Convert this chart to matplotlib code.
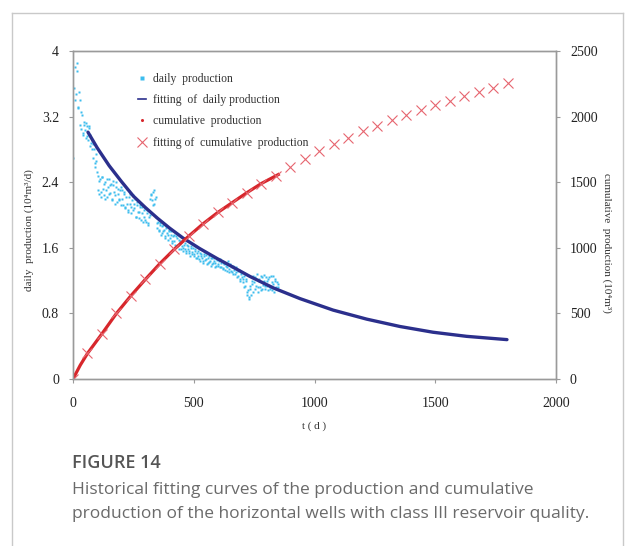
import numpy as np
import matplotlib
matplotlib.use("Agg")
import matplotlib.pyplot as plt
from matplotlib.lines import Line2D

plt.rcParams['font.family'] = ['Liberation Serif', 'DejaVu Serif']

# ---- data ----
# measured daily production (10^4 m3/d); two readings per 5 days
# taken across the noisy band
days = np.arange(2, 852, 5)
daily = [2.70, 3.80, 3.48, 3.75, 3.32, 3.40, 3.05, 3.22, 2.98, 3.14,
         2.94, 3.08, 2.92, 3.06, 2.84, 2.92, 2.70, 2.80, 2.58, 2.66,
         2.48, 2.26, 2.44, 2.28, 2.46, 2.24, 2.40, 2.30, 2.22, 2.44,
         2.27, 2.38, 2.18, 2.36, 2.24, 2.40, 2.16, 2.32, 2.20, 2.34,
         2.30, 2.12, 2.28, 2.10, 2.32, 2.06, 2.22, 2.14, 2.02, 2.24,
         2.08, 2.20, 1.98, 2.16, 2.04, 2.12, 1.94, 2.10, 1.98, 2.08,
         1.92, 2.06, 1.90, 2.00, 2.26, 2.18, 2.28, 2.14, 2.22, 1.84,
         1.92, 1.80, 1.90, 1.78, 1.88, 1.82, 1.74, 1.86, 1.76, 1.82,
         1.72, 1.80, 1.68, 1.76, 1.64, 1.74, 1.62, 1.70, 1.66, 1.58,
         1.68, 1.60, 1.66, 1.56, 1.64, 1.58, 1.54, 1.62, 1.52, 1.60,
         1.50, 1.58, 1.48, 1.56, 1.46, 1.54, 1.50, 1.44, 1.53, 1.45,
         1.51, 1.42, 1.50, 1.44, 1.48, 1.40, 1.47, 1.42, 1.38, 1.46,
         1.38, 1.46, 1.36, 1.44, 1.34, 1.42, 1.38, 1.32, 1.44, 1.34,
         1.40, 1.30, 1.38, 1.33, 1.28, 1.36, 1.26, 1.33, 1.22, 1.30,
         1.18, 1.26, 1.14, 1.22, 1.06, 1.00, 1.10, 1.03, 1.16, 1.26,
         1.10, 1.22, 1.28, 1.12, 1.20, 1.08, 1.24, 1.15, 1.27, 1.10,
         1.20, 1.08, 1.24, 1.12, 1.18, 1.26, 1.06, 1.20, 1.10, 1.16]
days_b = np.arange(4.5, 852, 5)
daily_b = [3.55, 3.40, 3.85, 3.30, 3.50, 3.10, 3.25, 3.00, 3.10, 3.04,
           3.12, 2.96, 3.08, 2.98, 2.88, 2.80, 2.86, 2.64, 2.74, 2.52,
           2.30, 2.42, 2.22, 2.46, 2.32, 2.38, 2.20, 2.44, 2.34, 2.26,
           2.36, 2.20, 2.42, 2.28, 2.14, 2.34, 2.26, 2.18, 2.30, 2.12,
           2.20, 2.26, 2.08, 2.22, 2.14, 2.04, 2.26, 2.10, 2.18, 2.06,
           2.14, 1.98, 2.12, 2.04, 1.96, 2.10, 2.02, 1.92, 2.06, 1.94,
           2.02, 1.88, 1.98, 2.20, 2.24, 2.12, 2.30, 2.20, 1.98, 1.90,
           1.82, 1.88, 1.76, 1.86, 1.80, 1.72, 1.84, 1.78, 1.70, 1.80,
           1.76, 1.66, 1.74, 1.68, 1.62, 1.72, 1.64, 1.58, 1.68, 1.62,
           1.56, 1.64, 1.58, 1.54, 1.62, 1.56, 1.50, 1.60, 1.55, 1.52,
           1.56, 1.48, 1.54, 1.50, 1.44, 1.52, 1.47, 1.42, 1.50, 1.46,
           1.40, 1.48, 1.43, 1.38, 1.47, 1.41, 1.44, 1.37, 1.45, 1.40,
           1.44, 1.37, 1.42, 1.35, 1.40, 1.33, 1.41, 1.36, 1.30, 1.39,
           1.32, 1.37, 1.28, 1.35, 1.30, 1.24, 1.32, 1.20, 1.28, 1.24,
           1.22, 1.12, 1.20, 1.02, 1.08, 0.98, 1.14, 1.20, 1.06, 1.18,
           1.24, 1.14, 1.06, 1.22, 1.12, 1.26, 1.10, 1.20, 1.13, 1.24,
           1.14, 1.22, 1.10, 1.26, 1.08, 1.16, 1.22, 1.12, 1.18, 1.12]

# fitted daily production
fit_t = [62, 100, 150, 200, 250, 300, 350, 400, 455, 525, 596, 665, 733,
         830, 940, 1077, 1216, 1354, 1491, 1630, 1797]
fit_q = [3.01, 2.82, 2.60, 2.41, 2.23, 2.09, 1.96, 1.84, 1.72, 1.59, 1.47,
         1.36, 1.25, 1.11, 0.98, 0.84, 0.73, 0.64, 0.57, 0.52, 0.48]

# cumulative production (10^4 m3): measured up to ~850 d, fitted to 1800 d
cum_t = [0, 60, 120, 180, 240, 300, 360, 420, 480, 540, 600, 660, 720,
         780, 840, 900, 960, 1020, 1080, 1140, 1200, 1260, 1320, 1380,
         1440, 1500, 1560, 1620, 1680, 1740, 1800]
cum_fit = [0, 195, 345, 500, 635, 760, 880, 990, 1090, 1185, 1270, 1345,
           1420, 1490, 1550, 1615, 1680, 1738, 1790, 1838, 1888, 1930,
           1975, 2012, 2050, 2088, 2120, 2157, 2187, 2218, 2256]
cum_meas_t = [0, 30, 60, 120, 180, 240, 300, 360, 420, 480, 540, 600,
              660, 720, 780, 850]
cum_meas = [0, 105, 195, 345, 500, 635, 760, 880, 990, 1090, 1185, 1270,
            1345, 1420, 1490, 1558]

cyan = '#3cbdee'
navy = '#2b2f8c'
red = '#d7262b'
xred = '#e6656f'
spine = '#9a9a9a'

fig = plt.figure(figsize=(6.25, 5.46), dpi=100)
ax = fig.add_axes([0.1168, 0.3059, 0.7728, 0.6007])
ax2 = ax.twinx()

ax.plot(days, daily, ls='none', marker='s', ms=1.9, color=cyan, mec='none')
ax.plot(days_b, daily_b, ls='none', marker='s', ms=1.9, color=cyan, mec='none')
ax.plot(fit_t, fit_q, color=navy, lw=2.4, solid_capstyle='round')
ax2.plot(cum_meas_t, cum_meas, color=red, lw=2.3)
ax2.plot(cum_t, cum_fit, ls='none', marker='x', ms=6.5, mew=0.8, color=xred)

ax.set_xlim(0, 2000)
ax.set_ylim(0, 4)
ax2.set_ylim(0, 2500)
ax.set_xticks([0, 500, 1000, 1500, 2000])
ax.set_yticks([0, 0.8, 1.6, 2.4, 3.2, 4])
ax.set_yticklabels(['0', '0.8', '1.6', '2.4', '3.2', '4'])
ax2.set_yticks([0, 500, 1000, 1500, 2000, 2500])

for a in (ax, ax2):
    for s in a.spines.values():
        s.set_color(spine)
        s.set_linewidth(1.0)
    a.tick_params(direction='out', length=3, width=0.8, color=spine,
                  labelsize=10, labelcolor='#222222', pad=7)
ax.tick_params(axis='x', pad=10)

ax.set_xlabel('t ( d )', fontsize=8, color='#333333', labelpad=8)
fig.text(29 / 625, 1 - 230 / 546, 'daily  production (10⁴m³/d)', rotation=90,
         ha='center', va='center', fontsize=8, color='#333333')
fig.text(607 / 625, 1 - 243 / 546, 'cumulative  production (10⁴m³)',
         rotation=-90, ha='center', va='center', fontsize=8, color='#333333')

handles = [
    Line2D([], [], ls='none', marker='s', ms=2.2, color=cyan, mec='none'),
    Line2D([], [], color=navy, lw=1.2),
    Line2D([], [], ls='none', marker='o', ms=2.2, color=red, mec='none'),
    Line2D([], [], ls='none', marker='x', ms=6.5, mew=0.8, color=xred),
]
labels = ['daily  production', 'fitting  of  daily production',
          'cumulative  production', 'fitting of  cumulative  production']
leg = ax2.legend(handles, labels, loc='upper left',
                 bbox_to_anchor=(0.135, 0.932), frameon=False, fontsize=8.4,
                 handlelength=0.7, handletextpad=0.6, labelspacing=0.78,
                 borderpad=0, borderaxespad=0)
for t in leg.get_texts():
    t.set_color('#333333')

# figure frame
fc = '#c9c9c9'
fig.add_artist(Line2D([12 / 625, 12 / 625], [0, 1 - 13 / 546], color=fc, lw=1))
fig.add_artist(Line2D([12 / 625, 623 / 625], [1 - 13 / 546, 1 - 13 / 546], color=fc, lw=1))
fig.add_artist(Line2D([623 / 625, 623 / 625], [0, 1 - 13 / 546], color=fc, lw=1))

# caption
fig.text(72 / 625, 1 - 463 / 546, 'FIGURE 14', family='Open Sans',
         fontsize=13, weight='semibold', color='#555555', va='center')
fig.text(72 / 625, 1 - 490 / 546,
         'Historical fitting curves of the production and cumulative',
         family='Open Sans', fontsize=12.5, color='#6a6a6a', va='center')
fig.text(72 / 625, 1 - 514 / 546,
         'production of the horizontal wells with class III reservoir quality.',
         family='Open Sans', fontsize=12.5, color='#6a6a6a', va='center')

fig.savefig('out.png', dpi=100)
